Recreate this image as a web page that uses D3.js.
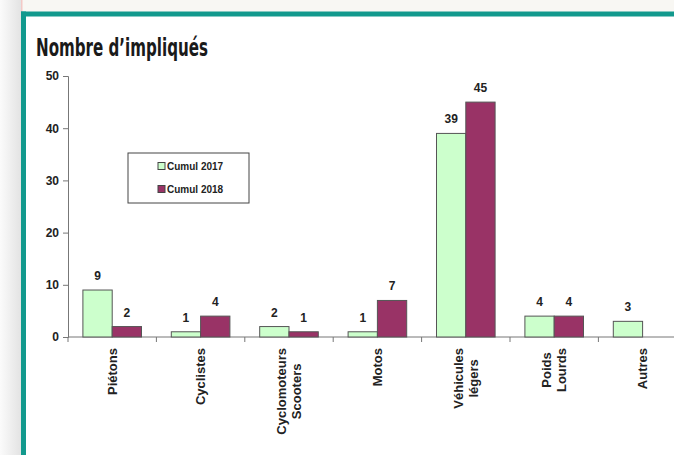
<!DOCTYPE html>
<html lang="fr">
<head>
<meta charset="utf-8" />
<title>Nombre d'impliqués</title>
<script src="https://cdn.jsdelivr.net/npm/d3@7"></script>
<style>
  body { margin: 0; background: #fff; }
  svg { display: block; }
  text { font-family: "Liberation Sans", Arial, sans-serif; font-weight: bold; fill: #222; }
</style>
</head>
<body>
<div id="chart"></div>
<script>
    // data
    const categories = [["Piétons"], ["Cyclistes"], ["Cyclomoteurs", "Scooters"], ["Motos"], ["Véhicules", "légers"], ["Poids", "Lourds"], ["Autres"]];
    const cumul2017 = [9, 1, 2, 1, 39, 4, 3];
    const cumul2018 = [2, 4, 1, 7, 45, 4, null];
    const seriesNames = ["Cumul 2017", "Cumul 2018"];
    const yTicks = [0, 10, 20, 30, 40, 50];

    const W = 674, H = 455;
    const teal = "#12998d";
    const colors = ["#ccffcc", "#993366"];

    const svg = d3.select("#chart").append("svg")
        .attr("width", W).attr("height", H);

    // page frame: off-white strip on top, grey gradient on the left, teal border
    const defs = svg.append("defs");
    const grad = defs.append("linearGradient").attr("id", "leftGrad");
    grad.append("stop").attr("offset", "0%").attr("stop-color", "#fbfbfb");
    grad.append("stop").attr("offset", "100%").attr("stop-color", "#e3e3e3");

    svg.append("rect").attr("x", 0).attr("y", 0).attr("width", W).attr("height", 12).attr("fill", "#f8f7f3");
    svg.append("rect").attr("x", 0).attr("y", 0).attr("width", 21).attr("height", H).attr("fill", "url(#leftGrad)");
    svg.append("rect").attr("x", 21).attr("y", 0).attr("width", 1.5).attr("height", 12).attr("fill", "#f3c9c6");
    svg.append("rect").attr("x", 21).attr("y", 11.5).attr("width", W - 21).attr("height", 5).attr("fill", teal);
    svg.append("rect").attr("x", 21).attr("y", 11.5).attr("width", 5).attr("height", H).attr("fill", teal);

    // title
    svg.append("text")
        .attr("x", 36).attr("y", 56)
        .attr("textLength", 172).attr("lengthAdjust", "spacingAndGlyphs")
        .style("font-family", "'Liberation Sans Narrow', 'DejaVu Sans Condensed', sans-serif")
        .style("font-size", "25px")
        .style("fill", "#1a1a1a")
        .text("Nombre d’impliqués");

    // scales
    const x0 = d3.scaleBand()
        .domain(d3.range(categories.length))
        .range([68, 68 + 88.4 * categories.length])
        .paddingInner(0).paddingOuter(0);
    const x1 = d3.scaleBand()
        .domain([0, 1])
        .range([14.9, 88.4 - 14.9]);
    const y = d3.scaleLinear().domain([0, 50]).range([337, 76]);

    // y axis
    const yAxis = svg.append("g")
        .attr("transform", "translate(68,0)")
        .call(d3.axisLeft(y).tickValues(yTicks).tickSize(5).tickPadding(4));
    yAxis.select(".domain").attr("stroke", "#777");
    yAxis.selectAll(".tick line").attr("stroke", "#777");
    yAxis.selectAll(".tick text")
        .style("font-size", "12px").style("font-family", "'Liberation Sans', Arial, sans-serif")
        .style("font-weight", "bold").attr("fill", "#222");

    // x axis line and tick marks between categories
    svg.append("line")
        .attr("x1", 68).attr("x2", W).attr("y1", y(0)).attr("y2", y(0))
        .attr("stroke", "#777");
    svg.selectAll(".xtick")
        .data(d3.range(categories.length))
        .join("line")
        .attr("x1", d => x0(d)).attr("x2", d => x0(d))
        .attr("y1", y(0)).attr("y2", y(0) + 5)
        .attr("stroke", "#777");

    // bars
    const series = [cumul2017, cumul2018];
    series.forEach((vals, s) => {
        const g = svg.append("g");
        const items = vals.map((v, i) => ({ i, v })).filter(d => d.v !== null);
        g.selectAll("rect")
            .data(items)
            .join("rect")
            .attr("x", d => x0(d.i) + x1(s))
            .attr("y", d => y(d.v))
            .attr("width", x1.bandwidth())
            .attr("height", d => y(0) - y(d.v))
            .attr("fill", colors[s])
            .attr("stroke", "#555")
            .attr("stroke-width", 1);
        g.selectAll("text")
            .data(items)
            .join("text")
            .attr("x", d => x0(d.i) + x1(s) + x1.bandwidth() / 2)
            .attr("y", d => y(d.v) - 10)
            .attr("text-anchor", "middle")
            .style("font-size", "12px")
            .text(d => d.v);
    });

    // category labels, rotated, lines centered on each other
    categories.forEach((lines, i) => {
        const cx = x0(i) + x0.bandwidth() / 2;
        const g = svg.append("g");
        const t = g.append("text")
            .attr("text-anchor", "middle")
            .style("font-size", "13px");
        lines.forEach((ln, k) => {
            t.append("tspan")
                .attr("x", 0)
                .attr("dy", k === 0 ? 0 : 15.5)
                .text(ln);
        });
        let maxLen = 0;
        t.selectAll("tspan").each(function () {
            maxLen = Math.max(maxLen, this.getComputedTextLength());
        });
        const offset = (lines.length - 1) * 15.5 / 2;
        g.attr("transform", `translate(${cx + 4.5 - offset},${348 + maxLen / 2}) rotate(-90)`);
    });

    // legend
    const lg = svg.append("g").attr("transform", "translate(128,153)");
    lg.append("rect").attr("width", 121).attr("height", 50)
        .attr("fill", "#fff").attr("stroke", "#444").attr("stroke-width", 1);
    seriesNames.forEach((name, s) => {
        lg.append("rect")
            .attr("x", 30).attr("y", 9.5 + s * 23)
            .attr("width", 7).attr("height", 7)
            .attr("fill", colors[s]).attr("stroke", "#444");
        lg.append("text")
            .attr("x", 39).attr("y", 17 + s * 23)
            .style("font-size", "10px")
            .text(name);
    });
</script>
</body>
</html>
